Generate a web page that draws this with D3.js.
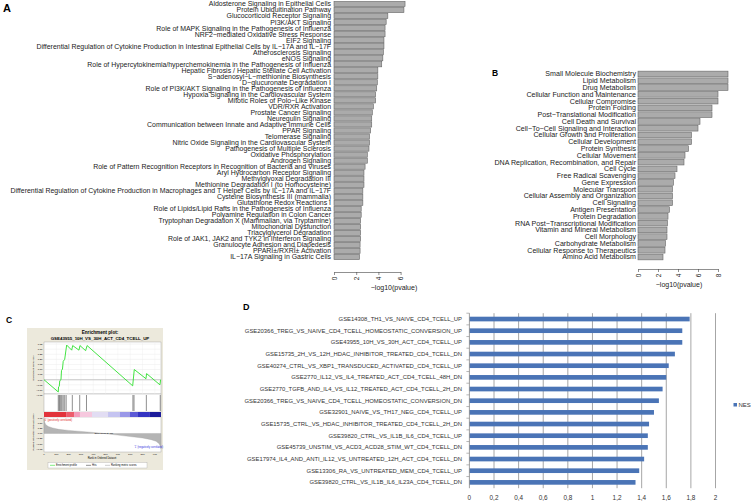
<!DOCTYPE html>
<html>
<meta charset="utf-8">
<head>
    <title>Pathway and gene set enrichment figure</title>
</head>
<style>
    body { margin: 0; background: #fff; }
    svg text { font-family: "Liberation Sans", Arial, Helvetica, sans-serif; }
</style>
<script src="https://d3js.org/d3.v7.min.js"></script>
<body>
<div id="fig"></div>
<script>

// ---- Panel A: canonical pathways, -log10(pvalue)
var aTerms = [
  "Aldosterone Signaling in Epithelial Cells",
  "Protein Ubiquitination Pathway",
  "Glucocorticoid Receptor Signaling",
  "PI3K/AKT Signaling",
  "Role of MAPK Signaling in the Pathogenesis of Influenza",
  "NRF2\u2212mediated Oxidative Stress Response",
  "EIF2 Signaling",
  "Differential Regulation of Cytokine Production in Intestinal Epithelial Cells by IL\u221217A and IL\u221217F",
  "Atherosclerosis Signaling",
  "eNOS Signaling",
  "Role of Hypercytokinemia/hyperchemokinemia in the Pathogenesis of Influenza",
  "Hepatic Fibrosis / Hepatic Stellate Cell Activation",
  "S\u2212adenosyl\u2212L\u2212methionine Biosynthesis",
  "D\u2212glucuronate Degradation I",
  "Role of PI3K/AKT Signaling in the Pathogenesis of Influenza",
  "Hypoxia Signaling in the Cardiovascular System",
  "Mitotic Roles of Polo\u2212Like Kinase",
  "VDR/RXR Activation",
  "Prostate Cancer Signaling",
  "Neuregulin Signaling",
  "Communication between Innate and Adaptive Immune Cells",
  "PPAR Signaling",
  "Telomerase Signaling",
  "Nitric Oxide Signaling in the Cardiovascular System",
  "Pathogenesis of Multiple Sclerosis",
  "Oxidative Phosphorylation",
  "Androgen Signaling",
  "Role of Pattern Recognition Receptors in Recognition of Bacteria and Viruses",
  "Aryl Hydrocarbon Receptor Signaling",
  "Methylglyoxal Degradation III",
  "Methionine Degradation I (to Homocysteine)",
  "Differential Regulation of Cytokine Production in Macrophages and T Helper Cells by IL\u221217A and IL\u221217F",
  "Cysteine Biosynthesis III (mammalia)",
  "Glutathione Redox Reactions I",
  "Role of Lipids/Lipid Rafts in the Pathogenesis of Influenza",
  "Polyamine Regulation in Colon Cancer",
  "Tryptophan Degradation X (Mammalian, via Tryptamine)",
  "Mitochondrial Dysfunction",
  "Triacylglycerol Degradation",
  "Role of JAK1, JAK2 and TYK2 in Interferon Signaling",
  "Granulocyte Adhesion and Diapedesis",
  "PPAR\u00ce\u00b1/RXR\u00ce\u00b1 Activation",
  "IL\u221217A Signaling in Gastric Cells"
];
var aValues = [6.4, 6.3, 4.85, 4.7, 4.6, 4.6, 4.5, 4.5, 4.45, 4.4, 4.3, 3.95, 3.95, 3.9, 3.85,
  3.75, 3.75, 3.55, 3.45, 3.4, 3.4, 3.3, 3.2, 3.2, 3.15, 3.0, 3.0, 2.8, 2.7, 2.7, 2.7,
  2.6, 2.6, 2.6, 2.45, 2.45, 2.4, 2.4, 2.4, 2.4, 2.35, 2.35, 2.3];
var aTicks = [0, 2, 4, 6];

// ---- Panel B: functions, -log10(pvalue)
var bTerms = [
  "Small Molecule Biochemistry", "Lipid Metabolism", "Drug Metabolism",
  "Cellular Function and Maintenance", "Cellular Compromise", "Protein Folding",
  "Post\u2212Translational Modification", "Cell Death and Survival",
  "Cell\u2212To\u2212Cell Signaling and Interaction", "Cellular Growth and Proliferation",
  "Cellular Development", "Protein Synthesis", "Cellular Movement",
  "DNA Replication, Recombination, and Repair", "Cell Cycle", "Free Radical Scavenging",
  "Gene Expression", "Molecular Transport", "Cellular Assembly and Organization",
  "Cell Signaling", "Antigen Presentation", "Protein Degradation",
  "RNA Post\u2212Transcriptional Modification", "Vitamin and Mineral Metabolism",
  "Cell Morphology", "Carbohydrate Metabolism", "Cellular Response to Therapeutics",
  "Amino Acid Metabolism"
];
var bValues = [9.0, 9.0, 9.0, 8.0, 8.0, 7.4, 7.4, 6.2, 6.0, 5.35, 5.35, 5.05, 4.7, 4.6,
  3.9, 3.7, 3.55, 3.45, 3.45, 3.45, 3.15, 3.0, 2.95, 2.9, 2.9, 2.75, 2.7, 2.5];
var bTicks = [0, 2, 4, 6, 8];

// ---- Panel C: GSEA enrichment plot
var esRank  = [0, 116, 118, 124, 128, 138, 142, 150, 156, 168, 184, 225, 233, 284, 292, 338, 350, 720, 733, 828, 833, 941, 947];
var esScore = [0, -0.12, -0.07, -0.065, -0.01, 0, 0.09, 0.105, 0.18, 0.2, 0.34, 0.29, 0.335, 0.29, 0.335, 0.285, 0.335, -0.06, 0.1, 0.01, 0.06, -0.05, 0];
var hitRanks = [116, 124, 130, 138, 146, 156, 168, 180, 230, 290, 345, 722, 731, 831, 944];
var metricRank  = [0, 5, 15, 35, 70, 120, 200, 300, 400, 486, 600, 700, 800, 870, 910, 935, 945, 950];
var metricValue = [0.72, 0.55, 0.42, 0.34, 0.27, 0.2, 0.15, 0.1, 0.05, 0, -0.08, -0.15, -0.22, -0.3, -0.38, -0.5, -0.62, -0.75];
var colorBarEdges  = [0, 180, 245, 292, 390, 520, 617, 698, 763, 860, 950];
var colorBarColors = ["#e2333b", "#ec5c6c", "#f39bbb", "#f6c8de", "#e2ddf3", "#c5c4f1", "#9a98e8", "#5c5ad6", "#3434c2", "#1c1c9a"];
var esTicks = [0.35, 0.3, 0.25, 0.2, 0.15, 0.1, 0.05, 0, -0.05, -0.1, -0.15];
var metricTicks = [0.75, 0.5, 0.25, 0, -0.25, -0.5, -0.75];
var rankTicks = [0, 100, 200, 300, 400, 500, 600, 700, 800, 900];

// ---- Panel D: NES of immunologic gene sets
var dTerms = [
  "GSE14308_TH1_VS_NAIVE_CD4_TCELL_UP",
  "GSE20366_TREG_VS_NAIVE_CD4_TCELL_HOMEOSTATIC_CONVERSION_UP",
  "GSE43955_10H_VS_30H_ACT_CD4_TCELL_UP",
  "GSE15735_2H_VS_12H_HDAC_INHIBITOR_TREATED_CD4_TCELL_DN",
  "GSE40274_CTRL_VS_XBP1_TRANSDUCED_ACTIVATED_CD4_TCELL_UP",
  "GSE2770_IL12_VS_IL4_TREATED_ACT_CD4_TCELL_48H_DN",
  "GSE2770_TGFB_AND_IL4_VS_IL12_TREATED_ACT_CD4_TCELL_2H_DN",
  "GSE20366_TREG_VS_NAIVE_CD4_TCELL_HOMEOSTATIC_CONVERSION_DN",
  "GSE32901_NAIVE_VS_TH17_NEG_CD4_TCELL_UP",
  "GSE15735_CTRL_VS_HDAC_INHIBITOR_TREATED_CD4_TCELL_2H_DN",
  "GSE39820_CTRL_VS_IL1B_IL6_CD4_TCELL_UP",
  "GSE45739_UNSTIM_VS_ACD3_ACD28_STIM_WT_CD4_TCELL_DN",
  "GSE17974_IL4_AND_ANTI_IL12_VS_UNTREATED_12H_ACT_CD4_TCELL_DN",
  "GSE13306_RA_VS_UNTREATED_MEM_CD4_TCELL_UP",
  "GSE39820_CTRL_VS_IL1B_IL6_IL23A_CD4_TCELL_DN"
];
var dValues = [1.79, 1.73, 1.73, 1.67, 1.62, 1.6, 1.57, 1.54, 1.5, 1.46, 1.45, 1.45, 1.42, 1.38, 1.35];
var dTicks = [0, 0.2, 0.4, 0.6, 0.8, 1, 1.2, 1.4, 1.6, 1.8, 2];


var svg = d3.select("#fig").append("svg")
  .attr("width", 752)
  .attr("height", 502);

// panel letters
[["A", 3, 11.5, 11], ["B", 492, 76, 8.5], ["C", 6, 323, 8.5], ["D", 243, 309.5, 9]].forEach(function(p) {
  svg.append("text").attr("x", p[1]).attr("y", p[2]).text(p[0])
    .style("font-weight", "bold").style("font-size", p[3] + "px");
});

// R style barplot with horizontal bars and vertical tick labels
function rBarplot(terms, values, x, y, labelRight, labelSize, axisY, ticks, titleX) {
  var g = svg.append("g");
  g.selectAll("rect")
    .data(terms).enter()
    .append("rect")
    .attr("x", x(0))
    .attr("y", function(d) { return y(d); })
    .attr("width", function(d, i) { return x(values[i]) - x(0); })
    .attr("height", y.bandwidth())
    .style("fill", "#ababab")
    .style("stroke", "#666")
    .style("stroke-width", 0.6);

  g.selectAll("text.lab")
    .data(terms).enter()
    .append("text")
    .attr("x", labelRight)
    .attr("y", function(d) { return y(d) + y.bandwidth() / 2; })
    .attr("dy", "0.35em")
    .attr("text-anchor", "end")
    .style("font-size", labelSize + "px")
    .style("fill", "#222")
    .text(function(d) { return d; });

  var ax = g.append("g")
    .attr("transform", "translate(0," + axisY + ")")
    .call(d3.axisBottom(x).tickValues(ticks).tickFormat(d3.format("d")).tickSize(3).tickSizeOuter(0));
  ax.select(".domain").attr("stroke", "#444").attr("stroke-width", 0.6);
  ax.selectAll(".tick line").attr("stroke", "#444").attr("stroke-width", 0.6);
  ax.selectAll(".tick text")
    .attr("transform", "rotate(-90)")
    .attr("text-anchor", "end")
    .attr("x", -4.5).attr("y", 0).attr("dy", "0.35em")
    .style("font-size", "6.5px")
    .style("fill", "#222");

  g.append("text")
    .attr("x", titleX).attr("y", axisY + 18)
    .attr("text-anchor", "middle")
    .style("font-size", "7px")
    .style("fill", "#222")
    .text("\u2212log10(pvalue)");
}

var xA = d3.scaleLinear().domain([0, 6]).range([334, 400.6]);
var yA = d3.scaleBand().domain(aTerms).range([1, 260]).paddingInner(0.14).paddingOuter(0.07);
rBarplot(aTerms, aValues, xA, yA, 331, 6.95, 272, aTicks, 394);

var xB = d3.scaleLinear().domain([0, 8]).range([638, 718]);
var yB = d3.scaleBand().domain(bTerms).range([70.6, 260.4]).paddingInner(0.16).paddingOuter(0.08);
rBarplot(bTerms, bValues, xB, yB, 636, 7.1, 269, bTicks, 679);

// ---- Panel C
var gC = svg.append("g");
var xC = d3.scaleLinear().domain([0, 950]).range([44, 161]);
var yES = d3.scaleLinear().domain([-0.14, 0.37]).range([394, 342]);
var yM = d3.scaleLinear().domain([-0.9, 0.8]).range([452, 417]);

gC.append("rect").attr("x", 27).attr("y", 328).attr("width", 136).attr("height", 142)
  .style("fill", "#ece9dc");
gC.append("text").attr("x", 100).attr("y", 334).attr("text-anchor", "middle")
  .style("font-size", "4.6px").style("font-weight", "bold").text("Enrichment plot:");
gC.append("text").attr("x", 100).attr("y", 340).attr("text-anchor", "middle")
  .style("font-size", "4.4px").style("font-weight", "bold").text("GSE43955_10H_VS_30H_ACT_CD4_TCELL_UP");

// white panels
[[342, 394], [394, 412], [417, 452]].forEach(function(p) {
  gC.append("rect").attr("x", xC(0)).attr("y", p[0]).attr("width", xC(950) - xC(0)).attr("height", p[1] - p[0])
    .style("fill", "#fff").style("stroke", "#999").style("stroke-width", 0.4);
});

// ES grid
gC.selectAll("line.esgrid").data(esTicks.slice(0, 10)).enter().append("line")
  .attr("x1", xC(0)).attr("x2", xC(950))
  .attr("y1", function(d) { return yES(d); }).attr("y2", function(d) { return yES(d); })
  .style("stroke", "#e6e6e6").style("stroke-width", 0.4);
gC.selectAll("line.rgrid").data(rankTicks.slice(1)).enter().append("line")
  .attr("x1", function(d) { return xC(d); }).attr("x2", function(d) { return xC(d); })
  .attr("y1", 342).attr("y2", 394)
  .style("stroke", "#eeeeee").style("stroke-width", 0.4);
gC.append("line").attr("x1", xC(0)).attr("x2", xC(950)).attr("y1", yES(0)).attr("y2", yES(0))
  .style("stroke", "#c8c8c8").style("stroke-width", 1.2);

var esLine = d3.line().x(function(d) { return xC(d[0]); }).y(function(d) { return yES(d[1]); });
gC.append("path")
  .attr("d", esLine(esRank.map(function(r, i) { return [r, esScore[i]]; })))
  .style("fill", "none").style("stroke", "#2ee02e").style("stroke-width", 0.9);

// hits
gC.selectAll("line.hit").data(hitRanks).enter().append("line")
  .attr("x1", function(d) { return xC(d); }).attr("x2", function(d) { return xC(d); })
  .attr("y1", 395).attr("y2", 411)
  .style("stroke", "#444").style("stroke-width", 0.6);

// ranked list colour bar
gC.selectAll("rect.cbar").data(colorBarColors).enter().append("rect")
  .attr("x", function(d, i) { return xC(colorBarEdges[i]); })
  .attr("width", function(d, i) { return xC(colorBarEdges[i + 1]) - xC(colorBarEdges[i]); })
  .attr("y", 412).attr("height", 5)
  .style("fill", function(d) { return d; });

// ranked list metric
var mArea = d3.area().x(function(d) { return xC(d[0]); }).y0(yM(0)).y1(function(d) { return yM(d[1]); });
gC.append("path")
  .attr("d", mArea(metricRank.map(function(r, i) { return [r, metricValue[i]]; })))
  .style("fill", "#b4b4b4").style("stroke", "#999").style("stroke-width", 0.3);
gC.append("text").attr("x", xC(486)).attr("y", yM(0) + 0.8).attr("text-anchor", "middle")
  .style("font-size", "2.4px").text("Zero cross at 486");
gC.append("text").attr("x", xC(3)).attr("y", 420.5)
  .style("font-size", "2.6px").style("fill", "#e02020").text("'0' (positively correlated)");
gC.append("text").attr("x", xC(850)).attr("y", 448).attr("text-anchor", "middle")
  .style("font-size", "2.6px").style("fill", "#3030e0").text("'1' (negatively correlated)");

// tick labels
gC.selectAll("text.est").data(esTicks).enter().append("text")
  .attr("x", 42.5).attr("y", function(d) { return yES(d) + 0.8; }).attr("text-anchor", "end")
  .style("font-size", "2.5px").text(function(d) { return d3.format(".2f")(d); });
gC.selectAll("text.mt").data(metricTicks).enter().append("text")
  .attr("x", 42.5).attr("y", function(d) { return yM(d) + 0.8; }).attr("text-anchor", "end")
  .style("font-size", "2.5px").text(function(d) { return d3.format(".2f")(d); });
gC.selectAll("text.rt").data(rankTicks).enter().append("text")
  .attr("x", function(d) { return xC(d); }).attr("y", 455).attr("text-anchor", "middle")
  .style("font-size", "2.5px").text(function(d) { return d; });
gC.append("text").attr("x", 102).attr("y", 458.5).attr("text-anchor", "middle")
  .style("font-size", "2.6px").text("Rank in Ordered Dataset");
gC.append("text").attr("transform", "translate(33.5,368) rotate(-90)").attr("text-anchor", "middle")
  .style("font-size", "2.5px").text("Enrichment score (ES)");
gC.append("text").attr("transform", "translate(33.5,432) rotate(-90)").attr("text-anchor", "middle")
  .style("font-size", "2.5px").text("Ranked list metric (Signal2Noise)");

// legend
gC.append("rect").attr("x", 48).attr("y", 462.5).attr("width", 99).attr("height", 5.5)
  .style("fill", "#fff").style("stroke", "#999").style("stroke-width", 0.3);
[["Enrichment profile", 50, "#2ee02e"], ["Hits", 86, "#444"], ["Ranking metric scores", 105, "#aaa"]].forEach(function(l) {
  gC.append("line").attr("x1", l[1]).attr("x2", l[1] + 5).attr("y1", 465.3).attr("y2", 465.3)
    .style("stroke", l[2]).style("stroke-width", 0.6);
  gC.append("text").attr("x", l[1] + 6).attr("y", 466.2).style("font-size", "2.6px").text(l[0]);
});

// ---- Panel D
var gD = svg.append("g");
var xD = d3.scaleLinear().domain([0, 2]).range([469.4, 715.5]);
var yD = d3.scaleBand().domain(dTerms).range([313.2, 488.2]).paddingInner(0.6).paddingOuter(0.3);

gD.selectAll("line.grid").data(dTicks.slice(1)).enter().append("line")
  .attr("x1", function(d) { return xD(d); }).attr("x2", function(d) { return xD(d); })
  .attr("y1", 313.2).attr("y2", 488.2)
  .style("stroke", "#8f8f8f").style("stroke-width", 0.8);

gD.selectAll("rect").data(dTerms).enter().append("rect")
  .attr("x", xD(0))
  .attr("y", function(d) { return yD(d); })
  .attr("width", function(d, i) { return xD(dValues[i]) - xD(0); })
  .attr("height", yD.bandwidth())
  .style("fill", "#4a74b6");

// category axis
gD.append("line").attr("x1", xD(0)).attr("x2", xD(0)).attr("y1", 313.2).attr("y2", 488.2)
  .style("stroke", "#868686").style("stroke-width", 0.8);
gD.selectAll("line.ctick").data(dTerms).enter().append("line")
  .attr("x1", xD(0) - 3).attr("x2", xD(0))
  .attr("y1", function(d) { return yD(d) - yD.step() * 0.3; })
  .attr("y2", function(d) { return yD(d) - yD.step() * 0.3; })
  .style("stroke", "#868686").style("stroke-width", 0.6);

gD.selectAll("text.lab").data(dTerms).enter().append("text")
  .attr("x", 462)
  .attr("y", function(d) { return yD(d) + yD.bandwidth() / 2; })
  .attr("dy", "0.35em")
  .attr("text-anchor", "end")
  .style("font-size", "5.9px")
  .style("fill", "#333")
  .text(function(d) { return d; });

gD.selectAll("text.tick").data(dTicks).enter().append("text")
  .attr("x", function(d) { return xD(d); })
  .attr("y", 499.5)
  .attr("text-anchor", "middle")
  .style("font-size", "6.4px")
  .style("fill", "#333")
  .text(function(d) { return String(d).replace(".", ","); });

// legend
gD.append("rect").attr("x", 733.5).attr("y", 403).attr("width", 3.5).attr("height", 3.5).style("fill", "#4a74b6");
gD.append("text").attr("x", 738.5).attr("y", 407).style("font-size", "6px").style("fill", "#333").text("NES");

</script>
</body>
</html>
